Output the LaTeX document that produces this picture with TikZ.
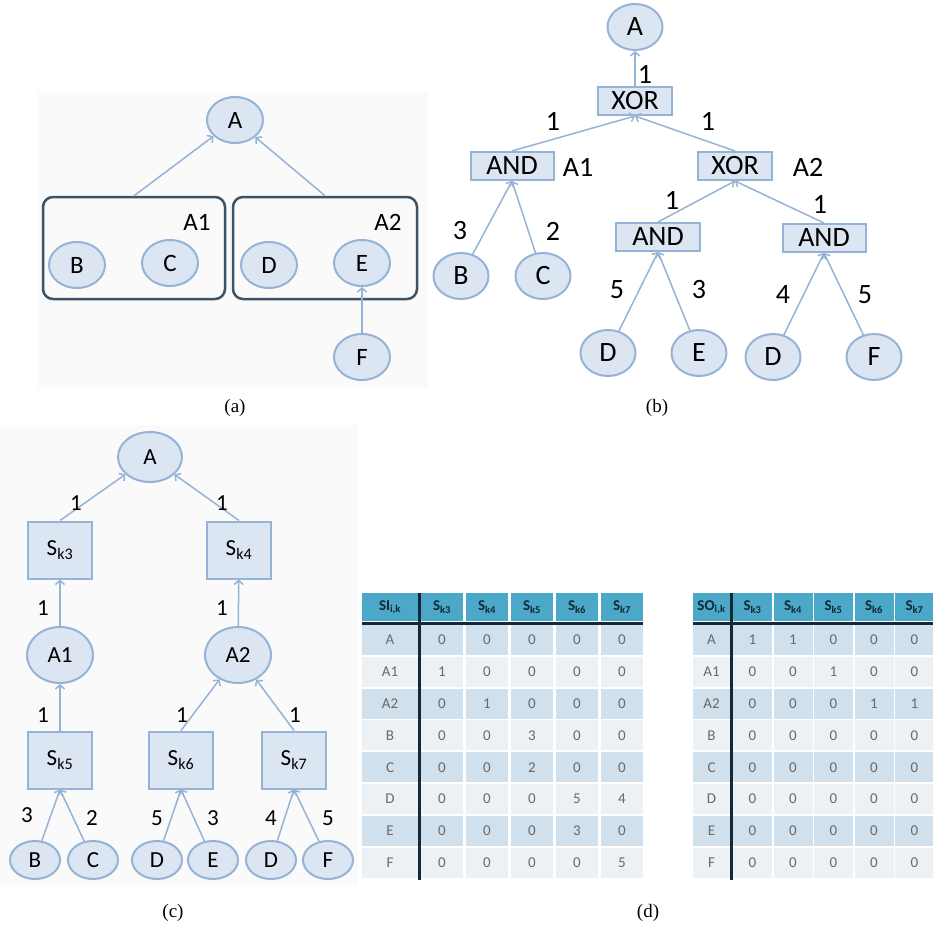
\documentclass[tikz,border=0pt]{standalone}
\usepackage{fontspec}
\setmainfont{Liberation Serif}
\newfontfamily\calibri{Carlito}
\usetikzlibrary{arrows.meta,shapes.geometric}

\definecolor{nodefill}{RGB}{220,230,242}
\definecolor{nodeline}{RGB}{149,179,215}
\definecolor{groupline}{RGB}{62,82,104}
\definecolor{headfill}{RGB}{75,168,200}
\definecolor{headtext}{RGB}{20,40,55}
\definecolor{rowdark}{RGB}{208,224,236}
\definecolor{rowlight}{RGB}{236,241,246}
\definecolor{celltext}{RGB}{105,105,105}
\definecolor{panel}{RGB}{250,250,250}

\tikzset{
  state/.style={ellipse, draw=nodeline, fill=nodefill, line width=2, inner sep=0,
    minimum width=56, minimum height=46},
  gate/.style={rectangle, draw=nodeline, fill=nodefill, line width=2, inner sep=0,
    minimum width=74, minimum height=28},
  sbox/.style={rectangle, draw=nodeline, fill=nodefill, line width=2, inner sep=0,
    minimum width=64, minimum height=57},
  group/.style={rectangle, draw=groupline, line width=2.5, rounded corners=10,
    minimum height=102},
  link/.style={draw=nodeline, line width=1.5, -{Straight Barb[length=4pt,width=9pt]}},
  fa/.style={font=\calibri\fontsize{25}{25}\selectfont},
  fb/.style={font=\calibri\fontsize{28}{28}\selectfont},
  fc/.style={font=\calibri\fontsize{23}{23}\selectfont},
  caption/.style={font=\fontsize{19}{19}\selectfont},
  headlabel/.style={font=\calibri\bfseries\fontsize{15}{15}\selectfont, text=headtext},
  cell/.style={font=\calibri\fontsize{15}{15}\selectfont, text=celltext}
}

\begin{document}
\begin{tikzpicture}[x=1pt, y=-1pt]
  \useasboundingbox (0,0) rectangle (933,928);

  % (a) groups of leaves
  \fill[panel] (38,92) rectangle (428,388);
  \node[state, fa] (a-A) at (235,120) {A};
  \node[group, minimum width=182] (a-g1) at (134,248) {};
  \node[group, minimum width=184] (a-g2) at (325,248) {};
  \node[fa] at (197,222) {A1};
  \node[fa] at (388,222) {A2};
  \node[state, fa] (a-B) at (77,265) {B};
  \node[state, fa] (a-C) at (170,263) {C};
  \node[state, fa] (a-D) at (269,265) {D};
  \node[state, fa] (a-E) at (362,263) {E};
  \node[state, fa] (a-F) at (362,357) {F};
  \draw[link] (a-g1.north) -- (a-A);
  \draw[link] (a-g2.north) -- (a-A);
  \draw[link] (a-F) -- (a-E);
  \node[caption] at (235,408) {(a)};

  % (b) gate tree
  \node[state, fb, minimum width=55] (b-A) at (635,27) {A};
  \node[gate, fb] (b-xor) at (635,101) {XOR};
  \node[gate, fb, minimum width=83] (b-and1) at (512,166) {AND};
  \node[gate, fb] (b-xor2) at (735,166) {XOR};
  \node[gate, fb, minimum width=84] (b-and2) at (658,237) {AND};
  \node[gate, fb, minimum width=83] (b-and3) at (824,238) {AND};
  \node[state, fb, minimum width=55] (b-B) at (461,276) {B};
  \node[state, fb, minimum width=55] (b-C) at (543,276) {C};
  \node[state, fb, minimum width=55] (b-D1) at (608,353) {D};
  \node[state, fb, minimum width=55] (b-E) at (699,353) {E};
  \node[state, fb, minimum width=55] (b-D2) at (773,357) {D};
  \node[state, fb, minimum width=55] (b-F) at (874,357) {F};
  \draw[link] (b-xor) -- (b-A);
  \draw[link] (b-and1.north) -- (b-xor.south);
  \draw[link] (b-xor2.north) -- (b-xor.south);
  \draw[link] (b-B) -- (b-and1.south);
  \draw[link] (b-C) -- (b-and1.south);
  \draw[link] (b-and2.north) -- (b-xor2.south);
  \draw[link] (b-and3.north) -- (b-xor2.south);
  \draw[link] (b-D1) -- (b-and2.south);
  \draw[link] (b-E) -- (b-and2.south);
  \draw[link] (b-D2) -- (b-and3.south);
  \draw[link] (b-F) -- (b-and3.south);
  \node[fb] at (645,74) {1};
  \node[fb] at (553,121) {1};
  \node[fb] at (708,121) {1};
  \node[fb] at (578,167) {A1};
  \node[fb] at (808,167) {A2};
  \node[fb] at (460,231) {3};
  \node[fb] at (553,231) {2};
  \node[fb] at (672,200) {1};
  \node[fb] at (820,204) {1};
  \node[fb] at (617,290) {5};
  \node[fb] at (699,290) {3};
  \node[fb] at (783,295) {4};
  \node[fb] at (865,295) {5};
  \node[caption] at (657,408) {(b)};

  % (c) tree with services
  \fill[panel] (0,425) rectangle (358,885);
  \node[state, fc, minimum width=64, minimum height=50] (c-A) at (150,457) {A};
  \node[sbox, fc] (c-s3) at (60,550) {S\textsubscript{k3}};
  \node[sbox, fc] (c-s4) at (239,550) {S\textsubscript{k4}};
  \node[state, fc, minimum width=66, minimum height=56] (c-A1) at (60,655) {A1};
  \node[state, fc, minimum width=66, minimum height=56] (c-A2) at (238,655) {A2};
  \node[sbox, fc] (c-s5) at (60,760) {S\textsubscript{k5}};
  \node[sbox, fc] (c-s6) at (181,760) {S\textsubscript{k6}};
  \node[sbox, fc] (c-s7) at (294,760) {S\textsubscript{k7}};
  \node[state, fc, minimum width=50, minimum height=38] (c-B) at (35,860) {B};
  \node[state, fc, minimum width=50, minimum height=38] (c-C) at (93,860) {C};
  \node[state, fc, minimum width=50, minimum height=38] (c-D1) at (157,860) {D};
  \node[state, fc, minimum width=50, minimum height=38] (c-E) at (213,860) {E};
  \node[state, fc, minimum width=50, minimum height=38] (c-D2) at (271,860) {D};
  \node[state, fc, minimum width=50, minimum height=38] (c-F) at (328,860) {F};
  \draw[link] (c-s3.north) -- (c-A);
  \draw[link] (c-s4.north) -- (c-A);
  \draw[link] (c-A1) -- (c-s3);
  \draw[link] (c-A2) -- (c-s4);
  \draw[link] (c-s5) -- (c-A1);
  \draw[link] (c-s6.north) -- (c-A2);
  \draw[link] (c-s7.north) -- (c-A2);
  \draw[link] (c-B) -- (c-s5.south);
  \draw[link] (c-C) -- (c-s5.south);
  \draw[link] (c-D1) -- (c-s6.south);
  \draw[link] (c-E) -- (c-s6.south);
  \draw[link] (c-D2) -- (c-s7.south);
  \draw[link] (c-F) -- (c-s7.south);
  \node[fc] at (76,503) {1};
  \node[fc] at (222,503) {1};
  \node[fc] at (43,608) {1};
  \node[fc] at (222,608) {1};
  \node[fc] at (43,715) {1};
  \node[fc] at (182,715) {1};
  \node[fc] at (295,715) {1};
  \node[fc] at (27,815) {3};
  \node[fc] at (92,818) {2};
  \node[fc] at (157,818) {5};
  \node[fc] at (213,818) {3};
  \node[fc] at (271,818) {4};
  \node[fc] at (328,818) {5};
  \node[caption] at (173,913) {(c)};

  % (d) SI table
  \foreach \h [count=\c from 0] in {SI\textsubscript{i,k},S\textsubscript{k3},S\textsubscript{k4},S\textsubscript{k5},S\textsubscript{k6},S\textsubscript{k7}} {
    \pgfmathsetmacro\xl{\c==0 ? 362 : 376+45*\c}
    \pgfmathsetmacro\xr{\c==0 ? 418 : 418+45*\c}
    \fill[headfill] (\xl,593) rectangle (\xr,621);
    \node[headlabel] at ({(\xl+\xr)/2},607) {\h};
  }
  \foreach \nm/\vals [count=\r] in {A/{0,0,0,0,0},A1/{1,0,0,0,0},A2/{0,1,0,0,0},B/{0,0,3,0,0},C/{0,0,2,0,0},D/{0,0,0,5,4},E/{0,0,0,3,0},F/{0,0,0,0,5}} {
    \pgfmathsetmacro\yt{625+31.8*(\r-1)}
    \pgfmathsetmacro\yb{\yt+30}
    \ifodd\r \def\rowcol{rowdark}\else\def\rowcol{rowlight}\fi
    \fill[\rowcol] (362,\yt) rectangle (418,\yb);
    \node[cell] at (390,{(\yt+\yb)/2}) {\nm};
    \foreach \v [count=\c] in \vals {
      \fill[\rowcol] ({376+45*\c},\yt) rectangle ({418+45*\c},\yb);
      \node[cell] at ({397+45*\c},{(\yt+\yb)/2}) {\v};
    }
  }
  \draw[headtext, line width=3] (362,623.5) -- (643,623.5);
  \draw[headtext, line width=2.5] (419.5,593) -- (419.5,880);

  % (d) SO table
  \foreach \h [count=\c from 0] in {SO\textsubscript{i,k},S\textsubscript{k3},S\textsubscript{k4},S\textsubscript{k5},S\textsubscript{k6},S\textsubscript{k7}} {
    \pgfmathsetmacro\xl{\c==0 ? 693 : 692.5+40.5*\c}
    \pgfmathsetmacro\xr{\c==0 ? 730 : 731.5+40.5*\c}
    \fill[headfill] (\xl,593) rectangle (\xr,621);
    \node[headlabel] at ({(\xl+\xr)/2},607) {\h};
  }
  \foreach \nm/\vals [count=\r] in {A/{1,1,0,0,0},A1/{0,0,1,0,0},A2/{0,0,0,1,1},B/{0,0,0,0,0},C/{0,0,0,0,0},D/{0,0,0,0,0},E/{0,0,0,0,0},F/{0,0,0,0,0}} {
    \pgfmathsetmacro\yt{625+31.8*(\r-1)}
    \pgfmathsetmacro\yb{\yt+30}
    \ifodd\r \def\rowcol{rowdark}\else\def\rowcol{rowlight}\fi
    \fill[\rowcol] (693,\yt) rectangle (730,\yb);
    \node[cell] at (711.5,{(\yt+\yb)/2}) {\nm};
    \foreach \v [count=\c] in \vals {
      \fill[\rowcol] ({692.5+40.5*\c},\yt) rectangle ({731.5+40.5*\c},\yb);
      \node[cell] at ({712+40.5*\c},{(\yt+\yb)/2}) {\v};
    }
  }
  \draw[headtext, line width=3] (693,623.5) -- (933,623.5);
  \draw[headtext, line width=2.5] (731.5,593) -- (731.5,880);
  \node[caption] at (648,913) {(d)};
\end{tikzpicture}
\end{document}
